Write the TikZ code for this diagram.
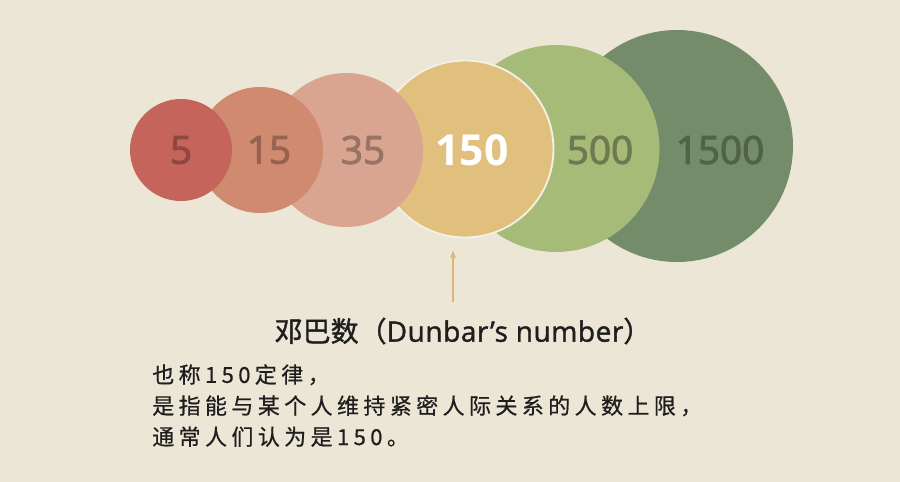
\documentclass[tikz,border=0pt]{standalone}
\usepackage{fontspec}
\setmainfont{Noto Sans CJK SC}
\newfontfamily\numfont[FakeBold=2.6]{Open Sans}
\newfontfamily\keynumfont{Open Sans}
\newfontfamily\latinfont[FakeBold=1.4,LetterSpace=2]{Open Sans}
\newfontfamily\headfont[FakeBold=1.2]{Noto Sans CJK SC}
\newfontfamily\bodyfont[LetterSpace=20,FakeBold=0.6]{Noto Sans CJK SC}
\usetikzlibrary{arrows.meta,positioning}

\definecolor{paper}{HTML}{ECE6D6}
\definecolor{redc}{HTML}{C5645A}
\definecolor{salmonc}{HTML}{D08A6F}
\definecolor{pinkc}{HTML}{D9A590}
\definecolor{goldc}{HTML}{E1C07E}
\definecolor{lightgreenc}{HTML}{A7BB79}
\definecolor{darkgreenc}{HTML}{748C69}
\definecolor{inkc}{HTML}{1E1E1E}

\begin{document}
\begin{tikzpicture}[
  x=0.75pt, y=-0.75pt,
  >={Latex[length=2mm,width=1.6mm]},
  ring/.style={circle, inner sep=0pt, minimum size=#1*1.5pt},
  num/.style={font=\numfont\fontsize{29}{29}\selectfont, inner sep=0pt},
  pointer/.style={->, line width=0.8pt, draw=goldc!85!brown},
]
% page
\fill[paper] (0,0) rectangle (900,482);
\useasboundingbox (0,0) rectangle (900,482);
% circles, largest at the back
\node[ring=116, fill=darkgreenc] (c1500) at (677,146) {};
\node[ring=103.5, fill=lightgreenc] (c500) at (556,148.5) {};
\node[ring=88.5, fill=goldc, draw=paper!60!white, line width=1.4pt] (c150) at (465,149) {};
\node[ring=77, fill=pinkc] (c35) at (346,150) {};
\node[ring=63, fill=salmonc] (c15) at (260,150) {};
\node[ring=51, fill=redc] (c5) at (181,150) {};
% numbers
\node[num, text=darkgreenc!70!black] (n1500) at (720,150) {1500};
\node[num, text=lightgreenc!65!black] (n500) at (600,150) {500};
\node[num, font=\keynumfont\bfseries\fontsize{32}{32}\selectfont, text=white] (n150) at (472,150) {150};
\node[num, text=pinkc!70!black] (n35) at (363,150) {35};
\node[num, text=salmonc!72!black] (n15) at (269,150) {15};
\node[num, text=redc!72!black] (n5) at (181,150) {5};
% caption
\node[font=\headfont\fontsize{21}{21}\selectfont, text=inkc, inner sep=0pt] (title) at (463,331)
  {邓巴数（{\latinfont\fontsize{21}{21}\selectfont Dunbar’s number}）};
\node[font=\bodyfont\fontsize{16.5}{23.3}\selectfont, text=inkc, align=left, anchor=north west, inner sep=0pt] (body) at (152,364)
  {也称150定律，\\是指能与某个人维持紧密人际关系的人数上限，\\通常人们认为是150。};
% pointer to 150
\coordinate (tail) at (453,302);
\coordinate (tip) at (453,250);
\draw[pointer] (tail) -- (tip);
\end{tikzpicture}
\end{document}
